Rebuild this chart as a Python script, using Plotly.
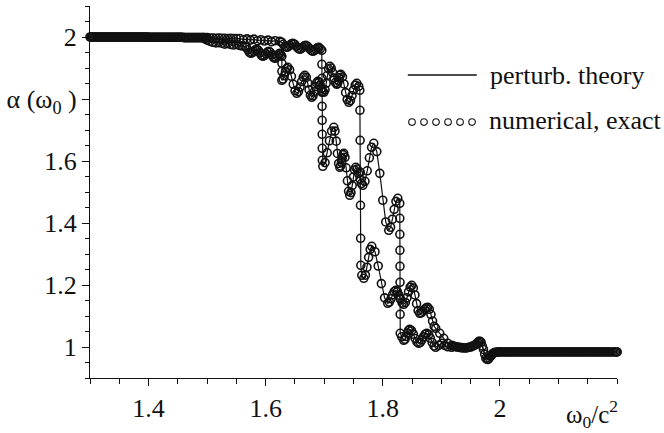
import plotly.graph_objects as go

# ---------------- data ----------------
# ---- branch that drops first (left staircase) ----
left_head_x = [1.300, 1.304, 1.308, 1.312, 1.316, 1.320, 1.324, 1.328, 1.332, 1.336,
               1.340, 1.344, 1.348, 1.352, 1.356, 1.360, 1.364, 1.368, 1.372, 1.376,
               1.380, 1.384, 1.388, 1.392, 1.396, 1.400, 1.404, 1.408, 1.412, 1.416,
               1.420, 1.424, 1.428, 1.432, 1.436, 1.440, 1.444, 1.448, 1.452, 1.456,
               1.460, 1.464, 1.468, 1.472, 1.476, 1.480, 1.484, 1.488, 1.492]
left_head_y = [2.000, 2.000, 2.000, 2.000, 2.000, 2.000, 2.000, 2.000, 2.000, 2.000,
               2.000, 2.000, 2.000, 2.000, 2.000, 2.000, 2.000, 2.000, 2.000, 2.000,
               2.000, 2.000, 2.000, 2.000, 2.000, 1.999, 1.999, 1.999, 1.999, 1.999,
               1.999, 1.999, 1.999, 1.999, 1.999, 1.999, 1.999, 1.999, 1.999, 1.999,
               1.998, 1.998, 1.998, 1.998, 1.998, 1.998, 1.998, 1.998, 1.998]
left_x = [1.496, 1.500, 1.505, 1.510, 1.515, 1.520, 1.525, 1.530, 1.535, 1.540, 1.545, 1.550,
          1.555, 1.560,
          1.5645, 1.5671, 1.5696, 1.5722, 1.5747, 1.5773, 1.5799, 1.5824, 1.5850, 1.5875,
          1.5901, 1.5927, 1.5952, 1.5978, 1.6003, 1.6029, 1.6055, 1.6080, 1.6106, 1.6131,
          1.6157, 1.6178, 1.6200, 1.6221, 1.6242, 1.6259, 1.6276,
          1.6277, 1.6277,
          1.6276, 1.6297, 1.6317, 1.6338, 1.6358, 1.6379, 1.6410, 1.6440, 1.6471, 1.6502,
          1.6532, 1.6560, 1.6587, 1.6614, 1.6642, 1.6669, 1.6693, 1.6717, 1.6741, 1.6764,
          1.6788, 1.6809, 1.6829, 1.6850, 1.6870, 1.6891, 1.6911, 1.6932, 1.6952, 1.6973,
          1.6993, 1.7014, 1.7034, 1.7055, 1.7075, 1.7096, 1.7119, 1.7143, 1.7167, 1.7191,
          1.7215, 1.7229, 1.7242, 1.7256, 1.7270, 1.7283, 1.7311, 1.7338, 1.7365, 1.7392,
          1.7420, 1.7447, 1.7474, 1.7502, 1.7529, 1.7556, 1.7590, 1.7608,
          1.7610, 1.7613, 1.7616, 1.7619, 1.7622, 1.7625, 1.7642,
          1.7676, 1.7703, 1.7730, 1.7758, 1.7785, 1.7812, 1.7867, 1.7922, 1.7976, 1.8031,
          1.8085, 1.8113, 1.8140, 1.8167, 1.8195, 1.8222, 1.8249, 1.8276, 1.8304, 1.8331,
          1.8358, 1.8386, 1.8413, 1.8440, 1.8468, 1.8495, 1.8522, 1.8549, 1.8577, 1.8604,
          1.8631, 1.8659, 1.8686, 1.8713, 1.8741, 1.8768, 1.8795, 1.8823, 1.8850, 1.8877,
          1.8904, 1.8973, 1.9041, 1.9109, 1.9177]
left_y = [1.994, 1.990, 1.986, 1.983, 1.981, 1.982, 1.980, 1.977, 1.979, 1.976, 1.974, 1.976,
          1.973, 1.971,
          1.9700, 1.9667, 1.9587, 1.9507, 1.9474, 1.9493, 1.9539, 1.9585, 1.9603, 1.9570,
          1.9490, 1.9410, 1.9377, 1.9401, 1.9458, 1.9515, 1.9539, 1.9506, 1.9426, 1.9346,
          1.9313, 1.9336, 1.9394, 1.9451, 1.9474, 1.9426, 1.9377,
          1.9152, 1.8894,
          1.8603, 1.8643, 1.8748, 1.8878, 1.8983, 1.9023, 1.8943, 1.8733, 1.8474, 1.8264,
          1.8184, 1.8239, 1.8385, 1.8564, 1.8709, 1.8765, 1.8697, 1.8519, 1.8300, 1.8123,
          1.8055, 1.8104, 1.8233, 1.8393, 1.8522, 1.8571, 1.8537, 1.8448, 1.8339, 1.8250,
          1.8216, 1.8296, 1.8506, 1.8765, 1.8975, 1.9055, 1.8999, 1.8854, 1.8675, 1.8530,
          1.8474, 1.8505, 1.8585, 1.8685, 1.8766, 1.8797, 1.8711, 1.8485, 1.8206, 1.7980,
          1.7894, 1.7952, 1.8105, 1.8295, 1.8448, 1.8506, 1.8410, 1.8281,
          1.7635, 1.6668, 1.5635, 1.4571, 1.3506, 1.2635, 1.2313,
          1.2216, 1.2315, 1.2573, 1.2892, 1.3150, 1.3248, 1.3073, 1.2613, 1.2045, 1.1585,
          1.1410, 1.1450, 1.1555, 1.1684, 1.1789, 1.1829, 1.1786, 1.1673, 1.1534, 1.1421,
          1.1377, 1.1436, 1.1589, 1.1779, 1.1932, 1.1990, 1.1904, 1.1678, 1.1399, 1.1173,
          1.1087, 1.1105, 1.1154, 1.1214, 1.1262, 1.1281, 1.1216, 1.1046, 1.0837, 1.0668,
          1.0603, 1.0442, 1.0281, 1.0119, 1.0055]
left_tail_x = [1.920, 1.925, 1.930, 1.935, 1.940, 1.945, 1.950, 1.955, 1.960, 1.964,
               1.968, 1.972, 1.976, 1.980, 1.984, 1.988, 1.992, 1.996,
               2.000, 2.005, 2.010, 2.015, 2.020, 2.025, 2.030, 2.035, 2.040, 2.045,
               2.050, 2.055, 2.060, 2.065, 2.070, 2.075, 2.080, 2.085, 2.090, 2.095,
               2.100, 2.105, 2.110, 2.115, 2.120, 2.125, 2.130, 2.135, 2.140, 2.145,
               2.150, 2.155, 2.160, 2.165, 2.170, 2.175, 2.180, 2.185, 2.190, 2.195,
               2.200]
left_tail_y = [1.003, 1.001, 0.999, 0.998, 0.997, 0.998, 1.000, 1.004, 1.010, 1.018,
               1.015, 0.992, 0.964, 0.960, 0.971, 0.979, 0.983, 0.984,
               0.984, 0.984, 0.984, 0.984, 0.984, 0.984, 0.984, 0.984, 0.984, 0.984,
               0.984, 0.984, 0.984, 0.984, 0.984, 0.984, 0.984, 0.984, 0.984, 0.984,
               0.984, 0.984, 0.984, 0.984, 0.984, 0.984, 0.984, 0.984, 0.984, 0.984,
               0.984, 0.984, 0.984, 0.984, 0.984, 0.984, 0.984, 0.984, 0.984, 0.984,
               0.984]

# ---- branch that drops later (right staircase) ----
right_head_x = [1.302, 1.306, 1.310, 1.314, 1.318, 1.322, 1.326, 1.330, 1.334, 1.338,
                1.342, 1.346, 1.350, 1.354, 1.358, 1.362, 1.366, 1.370, 1.374, 1.378,
                1.382, 1.386, 1.390, 1.394, 1.398, 1.402, 1.406, 1.410, 1.414, 1.418,
                1.422, 1.426, 1.430, 1.434, 1.438, 1.442, 1.446, 1.450, 1.454, 1.458,
                1.462, 1.466, 1.470, 1.474, 1.478, 1.482, 1.486, 1.490, 1.494]
right_head_y = [2.000, 2.000, 2.000, 2.000, 2.000, 2.000, 2.000, 2.000, 2.000, 2.000,
                2.000, 2.000, 2.000, 2.000, 2.000, 2.000, 2.000, 2.000, 2.000, 2.000,
                2.000, 2.000, 2.000, 2.000, 2.000, 1.999, 1.999, 1.999, 1.999, 1.999,
                1.999, 1.999, 1.999, 1.999, 1.999, 1.999, 1.999, 1.999, 1.999, 1.999,
                1.998, 1.998, 1.998, 1.998, 1.998, 1.998, 1.998, 1.998, 1.998]
right_x = [1.496, 1.500, 1.505, 1.510, 1.515, 1.520, 1.525, 1.530, 1.535, 1.540, 1.545, 1.550,
           1.556, 1.562, 1.568, 1.574, 1.580, 1.586, 1.592, 1.598, 1.604, 1.610, 1.616,
           1.6242, 1.6272, 1.6302, 1.6332, 1.6362, 1.6387, 1.6413, 1.6439, 1.6464, 1.6494,
           1.6524, 1.6554, 1.6584, 1.6609, 1.6635, 1.6660, 1.6686, 1.6716, 1.6746, 1.6776,
           1.6805, 1.6831, 1.6857, 1.6882, 1.6908, 1.6933, 1.6959,
           1.6960, 1.6961, 1.6962, 1.6963, 1.6964, 1.6965, 1.6966, 1.6967,
           1.6976, 1.7014, 1.7051, 1.7089, 1.7126, 1.7164, 1.7184, 1.7205, 1.7225, 1.7246,
           1.7266, 1.7280, 1.7294, 1.7307, 1.7321, 1.7334, 1.7355, 1.7375, 1.7396, 1.7416,
           1.7437, 1.7457, 1.7478, 1.7498, 1.7519, 1.7539, 1.7563, 1.7587, 1.7611, 1.7635,
           1.7659, 1.7696, 1.7734, 1.7771, 1.7809, 1.7846, 1.7898, 1.7949, 1.8000, 1.8051,
           1.8102, 1.8133, 1.8164, 1.8195, 1.8225, 1.8256, 1.8290,
           1.8291, 1.8292, 1.8293, 1.8294, 1.8295, 1.8296, 1.8297,
           1.8298, 1.8324, 1.8358, 1.8379, 1.8399, 1.8420, 1.8440, 1.8461, 1.8491, 1.8522,
           1.8553, 1.8584, 1.8614, 1.8642, 1.8669, 1.8696, 1.8724, 1.8751, 1.8782, 1.8812,
           1.8843, 1.8874, 1.8904, 1.8956, 1.9007, 1.9058, 1.9109, 1.9177]
right_y = [1.998, 1.998, 1.997, 1.997, 1.996, 1.997, 1.996, 1.996, 1.995, 1.996, 1.995, 1.995,
           1.995, 1.991, 1.994, 1.990, 1.993, 1.988, 1.991, 1.987, 1.990, 1.985, 1.988,
           1.9861, 1.9833, 1.9765, 1.9696, 1.9668, 1.9686, 1.9732, 1.9778, 1.9797, 1.9768,
           1.9700, 1.9632, 1.9603, 1.9622, 1.9668, 1.9714, 1.9732, 1.9698, 1.9635, 1.9567,
           1.9539, 1.9557, 1.9603, 1.9649, 1.9668, 1.9619, 1.9571,
           1.9119, 1.8668, 1.8216, 1.7765, 1.7313, 1.6861, 1.6410, 1.6023,
           1.5829, 1.5949, 1.6264, 1.6653, 1.6967, 1.7087, 1.6964, 1.6641, 1.6243, 1.5920,
           1.5797, 1.5840, 1.5953, 1.6092, 1.6205, 1.6248, 1.6119, 1.5780, 1.5362, 1.5023,
           1.4894, 1.4980, 1.5206, 1.5485, 1.5711, 1.5797, 1.5741, 1.5596, 1.5417, 1.5272,
           1.5216, 1.5345, 1.5684, 1.6103, 1.6442, 1.6571, 1.6303, 1.5601, 1.4734, 1.4033,
           1.3765, 1.3863, 1.4121, 1.4440, 1.4698, 1.4797, 1.4635,
           1.4152, 1.3635, 1.3119, 1.2603, 1.2087, 1.1571, 1.1055,
           1.0442, 1.0329, 1.0216, 1.0250, 1.0339, 1.0448, 1.0537, 1.0571, 1.0528, 1.0415,
           1.0275, 1.0163, 1.0119, 1.0150, 1.0231, 1.0331, 1.0411, 1.0442, 1.0399, 1.0286,
           1.0146, 1.0034, 0.9990, 1.0055, 1.0119, 1.0055, 1.0006, 0.9990]
right_tail_x = [1.9225, 1.9275, 1.9325, 1.9375, 1.9425, 1.9475, 1.9525, 1.9575, 1.962, 1.966,
                1.970, 1.974, 1.978, 1.982, 1.986, 1.990, 1.994, 1.998,
                2.0025, 2.0075, 2.0125, 2.0175, 2.0225, 2.0275, 2.0325, 2.0375, 2.0425, 2.0475,
                2.0525, 2.0575, 2.0625, 2.0675, 2.0725, 2.0775, 2.0825, 2.0875, 2.0925, 2.0975,
                2.1025, 2.1075, 2.1125, 2.1175, 2.1225, 2.1275, 2.1325, 2.1375, 2.1425, 2.1475,
                2.1525, 2.1575, 2.1625, 2.1675, 2.1725, 2.1775, 2.1825, 2.1875, 2.1925, 2.1975,
                2.200]
right_tail_y = [1.002, 1.000, 0.998, 0.997, 0.997, 0.999, 1.002, 1.007, 1.014, 1.018,
                1.003, 0.977, 0.960, 0.965, 0.975, 0.981, 0.983, 0.984,
                0.984, 0.984, 0.984, 0.984, 0.984, 0.984, 0.984, 0.984, 0.984, 0.984,
                0.984, 0.984, 0.984, 0.984, 0.984, 0.984, 0.984, 0.984, 0.984, 0.984,
                0.984, 0.984, 0.984, 0.984, 0.984, 0.984, 0.984, 0.984, 0.984, 0.984,
                0.984, 0.984, 0.984, 0.984, 0.984, 0.984, 0.984, 0.984, 0.984, 0.984,
                0.984]

x_ticks = [1.4, 1.6, 1.8, 2.0, 2.2]
x_labels = ["1.4", "1.6", "1.8", "2", ""]
y_ticks = [1.0, 1.2, 1.4, 1.6, 1.8, 2.0]
y_labels = ["1", "1.2", "1.4", "1.6", "α (ω<sub>0</sub> )", "2"]
legend_line_label = "perturb. theory"
legend_marker_label = "numerical, exact"

# ---------------- figure ----------------
FONT = "Liberation Serif, Times New Roman, Times, DejaVu Serif, serif"
INK = "#111111"

fig = go.Figure()
curves = [(left_head_x + left_x + left_tail_x, left_head_y + left_y + left_tail_y),
          (right_head_x + right_x + right_tail_x, right_head_y + right_y + right_tail_y)]
for cx, cy in curves:
    fig.add_trace(go.Scatter(
        x=cx, y=cy, mode="lines+markers",
        line=dict(color=INK, width=1.2),
        marker=dict(symbol="circle-open", size=8, color=INK, line=dict(width=1.6)),
        showlegend=False, cliponaxis=False, hoverinfo="skip"))

minor_x = [round(1.3 + 0.05 * i, 2) for i in range(19)]
minor_y = [round(0.9 + 0.05 * i, 2) for i in range(25)]

fig.update_xaxes(
    range=[1.3, 2.2], showgrid=False, zeroline=False,
    showline=True, linecolor=INK, linewidth=1.2,
    tickmode="array", tickvals=x_ticks, ticktext=x_labels,
    ticks="outside", ticklen=7, tickwidth=1.2, tickcolor=INK,
    minor=dict(tickmode="array", tickvals=minor_x, ticks="outside",
               ticklen=5, tickwidth=1.2, tickcolor=INK, showgrid=False),
    tickfont=dict(family=FONT, size=26, color=INK))
fig.update_yaxes(
    range=[0.9, 2.1], showgrid=False, zeroline=False,
    showline=True, linecolor=INK, linewidth=1.2,
    tickmode="array", tickvals=y_ticks, ticktext=y_labels,
    ticks="outside", ticklen=7, tickwidth=1.2, tickcolor=INK,
    minor=dict(tickmode="array", tickvals=minor_y, ticks="outside",
               ticklen=4, tickwidth=1.2, tickcolor=INK, showgrid=False),
    tickfont=dict(family=FONT, size=26, color=INK))

# legend (drawn manually, as in the original)
fig.add_shape(type="line", xref="paper", yref="paper",
              x0=0.603, x1=0.734, y0=0.8145, y1=0.8145,
              line=dict(color=INK, width=1.3))
for k in range(6):
    cxp = 0.611 + k * 0.0228
    fig.add_shape(type="circle", xref="paper", yref="paper",
                  xsizemode="pixel", ysizemode="pixel",
                  xanchor=cxp, yanchor=0.688,
                  x0=-3.3, x1=3.3, y0=-3.3, y1=3.3,
                  line=dict(color=INK, width=1.1))
fig.add_annotation(x=0.755, y=0.812, xref="paper", yref="paper",
                   text=legend_line_label, showarrow=False,
                   xanchor="left", yanchor="middle",
                   font=dict(family=FONT, size=26, color=INK))
fig.add_annotation(x=0.753, y=0.693, xref="paper", yref="paper",
                   text=legend_marker_label, showarrow=False,
                   xanchor="left", yanchor="middle",
                   font=dict(family=FONT, size=26, color=INK))
# x axis title at the lower right
fig.add_annotation(x=1.006, y=-0.098, xref="paper", yref="paper",
                   text="ω<sub>0</sub>/c<sup>2</sup>", showarrow=False,
                   xanchor="right", yanchor="middle",
                   font=dict(family=FONT, size=25, color=INK))

fig.update_layout(
    width=664, height=433,
    margin=dict(l=90, r=47, t=6, b=55),
    paper_bgcolor="white", plot_bgcolor="white",
    font=dict(family=FONT, color=INK),
    showlegend=False)

fig.write_html("out.html")
